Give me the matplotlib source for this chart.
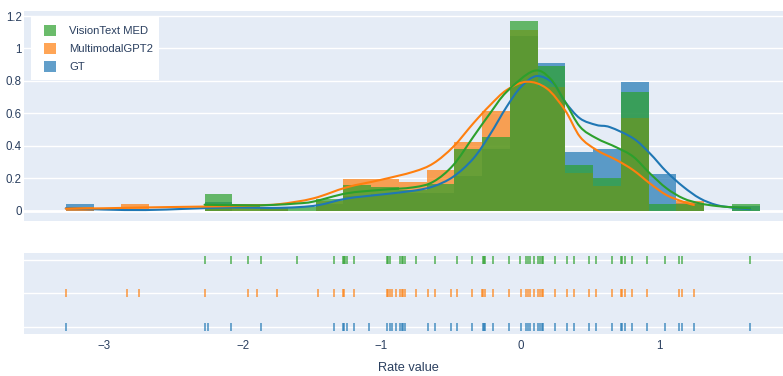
import numpy as np
import matplotlib
matplotlib.use("Agg")
import matplotlib.pyplot as plt
from matplotlib.patches import PathPatch, Rectangle
from matplotlib.path import Path

plt.rcParams["font.family"] = ["Liberation Sans", "DejaVu Sans"]

# ---- data -------------------------------------------------------------
group_labels = ["GT", "MultimodalGPT2", "VisionText MED"]
group_colors = ["#1f77b4", "#ff7f0e", "#2ca02c"]

# histogram (probability density), common bin grid
bin_start = -3.275
bin_size = 0.2
hist_gt = [0.039, 0, 0, 0, 0, 0.055, 0, 0.02, 0, 0.039, 0.09, 0.10, 0.11,
           0.111, 0.214, 0.378, 1.077, 0.912, 0.36, 0.378, 0.793, 0.228,
           0.05, 0, 0.03]
hist_mgpt2 = [0.02, 0, 0.039, 0, 0, 0.02, 0.039, 0.02, 0, 0.06, 0.195, 0.195,
              0.175, 0.251, 0.425, 0.615, 1.114, 0.764, 0.23, 0.152, 0.573,
              0, 0.06, 0, 0]
hist_vtmed = [0, 0, 0, 0, 0, 0.103, 0.039, 0.02, 0.02, 0.072, 0.158, 0.144,
              0.13, 0.164, 0.378, 0.456, 1.169, 0.894, 0.282, 0.2, 0.731,
              0.039, 0.039, 0, 0.039]

# kernel density curves
kde_x_gt = [-3.275, -3.0, -2.7, -2.4, -2.1, -1.8, -1.6, -1.45, -1.25, -1.0,
            -0.77, -0.626, -0.482, -0.338, -0.218, -0.098, 0.006, 0.118,
            0.238, 0.322, 0.43, 0.55, 0.646, 0.814, 0.934, 1.054, 1.174,
            1.294, 1.414, 1.534, 1.655]
kde_y_gt = [0.015, 0.007, 0.004, 0.012, 0.02, 0.017, 0.022, 0.035, 0.075,
            0.10, 0.123, 0.150, 0.21, 0.322, 0.47, 0.641, 0.764, 0.83,
            0.785, 0.672, 0.569, 0.528, 0.515, 0.446, 0.353, 0.24, 0.148,
            0.076, 0.035, 0.019, 0.009]

kde_x_mgpt2 = [-3.275, -3.0, -2.7, -2.4, -2.1, -1.9, -1.731, -1.491, -1.251,
               -1.011, -0.77, -0.626, -0.482, -0.338, -0.218, -0.098, 0.046,
               0.19, 0.322, 0.43, 0.55, 0.694, 0.814, 0.934, 1.054, 1.174,
               1.251]
kde_y_mgpt2 = [0.012, 0.015, 0.02, 0.024, 0.028, 0.033, 0.041, 0.076, 0.144,
               0.189, 0.24, 0.292, 0.395, 0.539, 0.65, 0.744, 0.795, 0.754,
               0.62, 0.456, 0.374, 0.312, 0.25, 0.168, 0.096, 0.055, 0.035]

kde_x_vtmed = [-2.275, -2.0, -1.8, -1.6, -1.491, -1.251, -1.011, -0.77,
               -0.626, -0.482, -0.338, -0.218, -0.098, 0.094, 0.214, 0.322,
               0.43, 0.55, 0.694, 0.814, 0.934, 1.054, 1.174, 1.294, 1.414,
               1.534, 1.655]
kde_y_vtmed = [0.037, 0.033, 0.035, 0.045, 0.056, 0.107, 0.128, 0.144,
               0.179, 0.282, 0.456, 0.60, 0.733, 0.861, 0.816, 0.672, 0.518,
               0.446, 0.39, 0.333, 0.23, 0.138, 0.076, 0.045, 0.029, 0.021,
               0.015]

# individual observations (rug)
rug_gt = [-3.275, -2.275, -2.248, -2.086, -1.866, -1.342, -1.275, -1.268,
          -1.251, -1.198, -1.088, -0.963, -0.939, -0.927, -0.898, -0.867,
          -0.854, -0.843, -0.831, -0.667, -0.615, -0.501, -0.454, -0.346,
          -0.271, -0.262, -0.252, -0.197, -0.084, 0.003, 0.041, 0.058, 0.070,
          0.099, 0.130, 0.142, 0.154, 0.166, 0.250, 0.334, 0.387, 0.497,
          0.545, 0.658, 0.723, 0.735, 0.756, 0.803, 0.912, 1.043, 1.146,
          1.163, 1.251, 1.655]
rug_mgpt2 = [-3.275, -2.834, -2.747, -2.275, -1.960, -1.899, -1.751, -1.455,
             -1.342, -1.275, -1.268, -1.198, -0.963, -0.951, -0.939, -0.927,
             -0.898, -0.867, -0.854, -0.843, -0.831, -0.751, -0.667, -0.615,
             -0.501, -0.454, -0.346, -0.278, -0.267, -0.254, -0.197, -0.084,
             0.003, 0.041, 0.058, 0.070, 0.099, 0.130, 0.142, 0.154, 0.166,
             0.250, 0.334, 0.387, 0.497, 0.545, 0.658, 0.723, 0.735, 0.756,
             0.803, 0.912, 1.146, 1.163, 1.251]
rug_vtmed = [-2.275, -2.086, -1.960, -1.866, -1.611, -1.342, -1.280, -1.270,
             -1.261, -1.251, -1.198, -0.963, -0.951, -0.939, -0.867, -0.854,
             -0.843, -0.831, -0.751, -0.615, -0.454, -0.346, -0.271, -0.262,
             -0.252, -0.197, -0.084, 0.000, 0.041, 0.058, 0.070, 0.099, 0.130,
             0.142, 0.154, 0.166, 0.250, 0.334, 0.387, 0.497, 0.545, 0.658,
             0.723, 0.735, 0.756, 0.803, 0.912, 1.043, 1.146, 1.163, 1.655]

x_ticks = [-3, -2, -1, 0, 1]
y_ticks = [0, 0.2, 0.4, 0.6, 0.8, 1.0, 1.2]
y_tick_labels = ["0", "0.2", "0.4", "0.6", "0.8", "1", "1.2"]
x_title = "Rate value"

# ---- styling -----------------------------------------------------------
BG = "#E5ECF6"
TXT = "#2a3f5f"
W, H = 783, 376
X_RANGE = (-3.576, 1.893)


def smooth_path(x, y):
    """Cubic (Catmull-Rom style) path through the given points."""
    pts = np.column_stack([x, y]).astype(float)
    verts = [pts[0]]
    codes = [Path.MOVETO]
    n = len(pts)
    for i in range(n - 1):
        p0 = pts[i - 1] if i > 0 else pts[i]
        p1, p2 = pts[i], pts[i + 1]
        p3 = pts[i + 2] if i + 2 < n else pts[i + 1]
        c1 = p1 + (p2 - p0) / 6.0
        c2 = p2 - (p3 - p1) / 6.0
        verts += [c1, c2, p2]
        codes += [Path.CURVE4] * 3
    return Path(verts, codes)


def fx(px):
    return px / W


def fy(py):
    return 1 - py / H


fig = plt.figure(figsize=(W / 100, H / 100), dpi=100)
ax_h = fig.add_axes([fx(24), fy(221), 759 / W, 210 / H])
ax_r = fig.add_axes([fx(24), fy(334), 759 / W, 81 / H])

for ax in (ax_h, ax_r):
    ax.set_facecolor(BG)
    for s in ax.spines.values():
        s.set_visible(False)
    ax.set_xlim(*X_RANGE)
    ax.tick_params(length=0, colors=TXT, labelsize=8.3)

# histogram panel
ax_h.set_ylim(-0.0635, 1.231)
for yv in y_ticks:
    ax_h.axhline(yv, color="white", lw=2.0 if yv == 0 else 1.0, zorder=0.5)
ax_h.set_yticks(y_ticks)
ax_h.set_yticklabels(y_tick_labels)
ax_h.tick_params(axis="y", pad=1.5)
ax_h.set_xticks([])

hists = [hist_gt, hist_mgpt2, hist_vtmed]
for heights, col in zip(hists, group_colors):
    lefts = bin_start + bin_size * np.arange(len(heights))
    ax_h.bar(lefts, heights, width=bin_size, align="edge", color=col,
             alpha=0.7, linewidth=0, zorder=1)

kdes = [(kde_x_gt, kde_y_gt), (kde_x_mgpt2, kde_y_mgpt2),
        (kde_x_vtmed, kde_y_vtmed)]
for (kx, ky), col in zip(kdes, group_colors):
    ax_h.add_patch(PathPatch(smooth_path(kx, ky), facecolor="none",
                             edgecolor=col, lw=1.5, zorder=2,
                             capstyle="round", joinstyle="round"))

# legend box (entries in reversed trace order)
fig.add_artist(Rectangle((fx(31), fy(80)), 128 / W, 63 / H,
                         transform=fig.transFigure, facecolor="white",
                         edgecolor="none", zorder=5))
for row, (lab, col) in enumerate(zip(group_labels[::-1],
                                     group_colors[::-1])):
    cy = 30.7 + 18 * row
    fig.add_artist(Rectangle((fx(44), fy(cy + 5.3)), 12 / W, 10.6 / H,
                             transform=fig.transFigure, facecolor=col,
                             alpha=0.7, edgecolor="none", zorder=6))
    fig.text(fx(69), fy(cy), lab, ha="left", va="center", fontsize=8.1,
             color=TXT, zorder=6)

# rug panel
ax_r.set_ylim(-0.219, 2.21)
ax_r.set_yticks([0, 1, 2])
ax_r.set_yticklabels([])
for yv in (0, 1, 2):
    ax_r.axhline(yv, color="white", lw=1.0, zorder=0.5)
rugs = [rug_gt, rug_mgpt2, rug_vtmed]
for i, (vals, col) in enumerate(zip(rugs, group_colors)):
    ax_r.plot(vals, [i] * len(vals), linestyle="none", marker="|",
              markersize=6.2, markeredgewidth=1.1, color=col, alpha=0.8,
              zorder=2)
ax_r.set_xticks(x_ticks)
ax_r.set_xticklabels([f"\u2212{abs(v)}" if v < 0 else str(v) for v in x_ticks])
ax_r.tick_params(axis="x", pad=4)

fig.text(fx(408), fy(368), x_title, ha="center", va="center",
         fontsize=9.2, color=TXT)

fig.savefig("out.png", dpi=100, facecolor="white")
